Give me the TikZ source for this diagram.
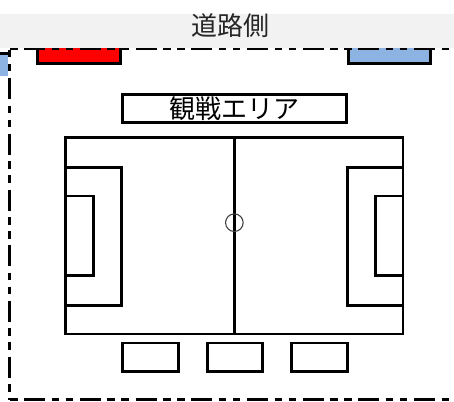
\documentclass[tikz,border=0pt]{standalone}
\usepackage{fontspec}
\newfontfamily\jpfont{Noto Sans CJK JP}
\definecolor{bandgray}{HTML}{F2F2F2}
\definecolor{benchred}{HTML}{FF0000}
\definecolor{benchblue}{HTML}{8DB3E2}
\definecolor{labelgray}{HTML}{262626}

\begin{document}
\begin{tikzpicture}
  [x=1pt,y=-1pt,
   line/.style={draw=black,line width=2.8pt,inner sep=0pt,outer sep=0pt},
   edge/.style={line width=2.6pt,line cap=butt,
     dash pattern=on 21pt off 6.5pt on 7.5pt off 6.5pt on 7.5pt off 6.7pt},
   jp/.style={font=\jpfont\fontsize{26}{26}\selectfont}]
  \useasboundingbox (0,0) rectangle (454,401);

  % tents at the road side
  \node[line,fill=benchred,minimum width=82.8pt,minimum height=19.3pt] (red) at (78.9,53.65) {};
  \node[line,fill=benchblue,minimum width=82.4pt,minimum height=19.3pt] (blue) at (389.5,53.65) {};
  \fill[benchblue] (0,55) rectangle (8,76);
  \draw[line width=2.5pt] (0,53.5) -- (9,53.5);

  % road band
  \fill[bandgray] (0,14) rectangle (454,48);
  \node[jp,text=labelgray] (road) at (230.5,26) {道路側};

  % site boundary
  \coordinate (tl) at (9.5,49);
  \coordinate (bl) at (9.5,399.5);
  \draw[edge,dash phase=41pt] (tl) -- (470,49);
  \draw[edge,dash phase=26.6pt] (tl) -- (bl);
  \draw[edge,dash phase=41pt] (bl) -- (470,399.5);

  % spectators
  \node[line,jp,minimum width=224pt,minimum height=27.6pt] (stand) at (234.7,108.5) {観戦エリア};

  % pitch
  \node[line,minimum width=337.3pt,minimum height=196.5pt] (pitch) at (234.35,235.75) {};
  \draw[line width=2.8pt] (pitch.north) -- (pitch.south);
  \node[draw=black!75,line width=1.1pt,circle,inner sep=0pt,minimum size=17.6pt] (kickoff) at (234.35,222.7) {};
  \node[line,minimum width=55.6pt,minimum height=138.4pt] (boxl) at (93.5,236.5) {};
  \node[line,minimum width=28pt,minimum height=79.3pt] (goall) at (79.7,235.7) {};
  \node[line,minimum width=55.7pt,minimum height=138.4pt] (boxr) at (375.15,236.5) {};
  \node[line,minimum width=27.7pt,minimum height=79.3pt] (goalr) at (389.15,235.7) {};

  % benches
  \foreach \name/\cx/\w in {b1/150.3/56,b2/234.9/55.2,b3/319.25/55.9}
    \node[line,minimum width=\w pt,minimum height=28.2pt] (\name) at (\cx,357.1) {};
\end{tikzpicture}
\end{document}
